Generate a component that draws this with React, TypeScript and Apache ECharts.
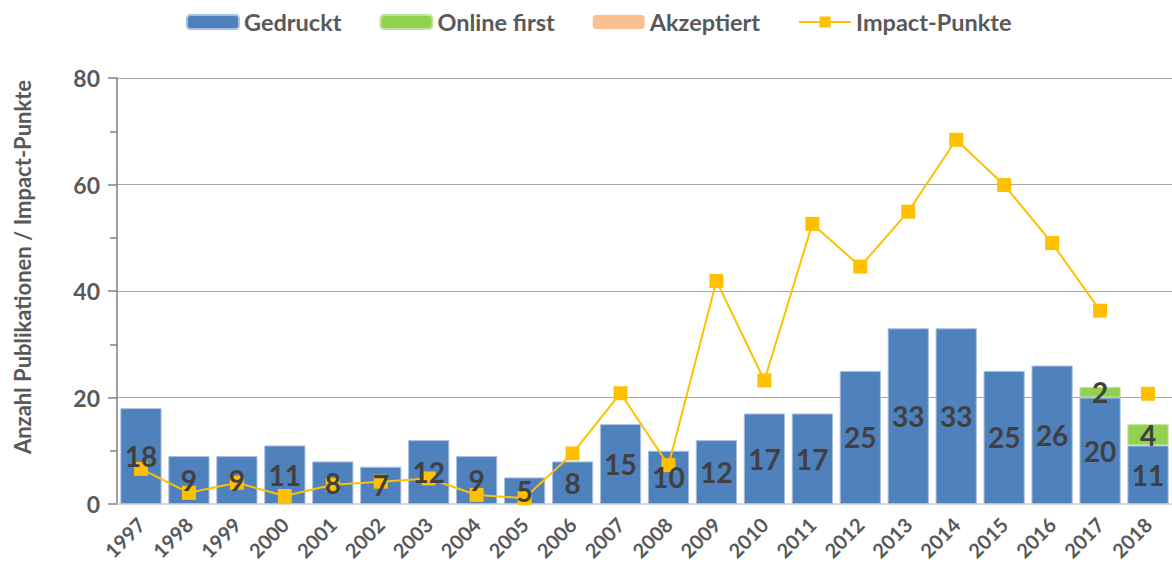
import React, { useEffect, useRef } from "react";
import * as echarts from "echarts";

const years = ["1997","1998","1999","2000","2001","2002","2003","2004","2005","2006","2007","2008","2009","2010","2011","2012","2013","2014","2015","2016","2017","2018"];
const gedruckt = [18, 9, 9, 11, 8, 7, 12, 9, 5, 8, 15, 10, 12, 17, 17, 25, 33, 33, 25, 26, 20, 11];
const onlineFirst = [0, 0, 0, 0, 0, 0, 0, 0, 0, 0, 0, 0, 0, 0, 0, 0, 0, 0, 0, 0, 2, 4];
const akzeptiert = [0, 0, 0, 0, 0, 0, 0, 0, 0, 0, 0, 0, 0, 0, 0, 0, 0, 0, 0, 0, 0, 0];
const impact = [6.6, 2.1, 4.0, 1.5, 3.6, 4.2, 4.8, 1.7, 1.1, 9.5, 20.8, 7.3, 41.9, 23.2, 52.6, 44.6, 54.9, 68.4, 59.9, 49.0, 36.3, 20.7];
const unconnectedYear = "2018";
const yTicks = [0, 20, 40, 60, 80];

const FONT = "Lato, Calibri, 'Noto Sans', sans-serif";
const TEXT = "#595959";

export default function App() {
  const ref = useRef<HTMLDivElement>(null);
  useEffect(() => {
    if (!ref.current) return;
    const chart = echarts.init(ref.current, undefined, { renderer: "svg" });
    const breakIdx = years.indexOf(unconnectedYear);
    const lineData = impact.map((v, i) => (i === breakIdx ? "-" : v));
    const soloData = impact.map((v, i) => (i === breakIdx ? v : "-"));
    const nz = (arr: number[]) => arr.map((v) => (v ? v : "-"));
    const barLabel = {
      show: true,
      position: "inside",
      fontFamily: FONT,
      fontWeight: "bold",
      fontSize: 28,
      color: "#404040",
      formatter: (p: any) => (p.value ? String(p.value) : ""),
    };
    chart.setOption({
      animation: false,
      textStyle: { fontFamily: FONT },
      legend: {
        left: 181,
        top: 5,
        itemWidth: 52,
        itemHeight: 14,
        itemGap: 38,
        data: ["Gedruckt", "Online first", "Akzeptiert", "Impact-Punkte"],
        textStyle: { fontFamily: FONT, fontWeight: "bold", fontSize: 23.5, color: TEXT },
      },
      graphic: [
        {
          type: "text",
          x: 22,
          y: 267,
          rotation: Math.PI / 2,
          style: {
            text: "Anzahl Publikationen / Impact-Punkte",
            fontFamily: FONT,
            fontWeight: "bold",
            fontSize: 22,
            fill: TEXT,
            textAlign: "center",
            textVerticalAlign: "middle",
          },
        },
      ],
      grid: { left: 117, top: 78, height: 426, width: 1058 },
      xAxis: {
        type: "category",
        data: years,
        axisLine: { show: true, lineStyle: { color: "#d9d9d9", width: 2 } },
        axisTick: { show: false },
        axisLabel: {
          rotate: 45,
          margin: 17,
          fontFamily: FONT,
          fontWeight: "bold",
          fontSize: 20,
          color: TEXT,
          interval: 0,
        },
      },
      yAxis: {
        type: "value",
        min: yTicks[0],
        max: yTicks[yTicks.length - 1],
        interval: yTicks[1] - yTicks[0],
        axisLine: { show: true, lineStyle: { color: "#808080", width: 1.5 } },
        axisTick: { show: true, length: 9, lineStyle: { color: "#808080", width: 1.5 } },
        minorTick: { show: true, splitNumber: 2, length: 7, lineStyle: { color: "#808080", width: 1.5 } },
        splitLine: { show: true, lineStyle: { color: "#a6a6a6", width: 1.2 } },
        axisLabel: {
          margin: 17,
          fontFamily: FONT,
          fontWeight: "bold",
          fontSize: 23,
          color: TEXT,
        },
      },
      series: [
        {
          name: "Gedruckt",
          type: "bar",
          stack: "pub",
          data: nz(gedruckt),
          barCategoryGap: "14%",
          barGap: "-100%",
          itemStyle: { color: "#4f81bd", borderColor: "#a9c1e0", borderWidth: 1 },
        },
        {
          name: "Online first",
          type: "bar",
          stack: "pub",
          data: nz(onlineFirst),
          barGap: "-100%",
          itemStyle: { color: "#92d050", borderColor: "#c3e5a3", borderWidth: 1 },
        },
        {
          name: "Akzeptiert",
          type: "bar",
          stack: "pub",
          data: nz(akzeptiert),
          barGap: "-100%",
          itemStyle: { color: "#fac090" },
        },
        {
          name: "Impact-Punkte",
          type: "line",
          data: lineData,
          symbol: "rect",
          symbolSize: 14,
          connectNulls: false,
          itemStyle: { color: "#ffc000" },
          lineStyle: { color: "#ffc000", width: 2 },
          z: 3,
        },
        {
          name: "Impact-Punkte (einzeln)",
          type: "line",
          data: soloData,
          symbol: "rect",
          symbolSize: 14,
          showSymbol: true,
          itemStyle: { color: "#ffc000" },
          lineStyle: { width: 0 },
          z: 3,
        },
        {
          name: "Gedruckt-Werte",
          type: "bar",
          stack: "labels",
          data: nz(gedruckt),
          barGap: "-100%",
          silent: true,
          z: 10,
          itemStyle: { color: "rgba(0,0,0,0)" },
          label: barLabel,
        },
        {
          name: "Online-first-Werte",
          type: "bar",
          stack: "labels",
          data: nz(onlineFirst),
          barGap: "-100%",
          silent: true,
          z: 10,
          itemStyle: { color: "rgba(0,0,0,0)" },
          label: barLabel,
        },
      ],
    });
    return () => chart.dispose();
  }, []);
  return (
    <div
      ref={ref}
      style={{ position: "fixed", left: 0, top: 0, width: 1172, height: 570, background: "#fff" }}
    />
  );
}
